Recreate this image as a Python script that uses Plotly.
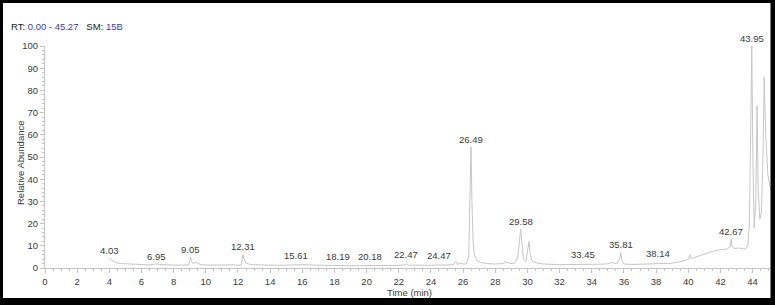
import plotly.graph_objects as go

# ---- data ----
time_min = [3.98, 4.05, 4.2, 4.4, 4.7, 5.0, 5.5, 6.0, 6.5, 6.8, 6.95, 7.1, 7.5, 8.0, 8.5,
            8.95, 9.0, 9.05, 9.12, 9.2, 9.35, 9.45, 9.7, 10.2, 11.0, 11.6, 11.7, 11.8, 12.2,
            12.27, 12.31, 12.38, 12.5, 12.8, 13.5, 14.5, 15.2, 15.6, 16.0, 16.7, 17.5, 18.2,
            19.0, 20.2, 21.0, 22.0, 22.4, 22.47, 22.6, 23.5, 24.0, 24.47, 25.0, 25.4, 25.55,
            25.65, 25.8, 26.0, 26.2, 26.35, 26.42, 26.49, 26.55, 26.62, 26.7, 26.85, 27.1,
            27.5, 28.0, 28.5, 28.6, 28.7, 28.8, 28.9, 29.2, 29.4, 29.5, 29.58, 29.65, 29.75,
            29.9, 30.0, 30.1, 30.18, 30.3, 30.6, 31.0, 32.0, 33.0, 33.45, 34.0, 34.5, 35.0,
            35.3, 35.4, 35.6, 35.75, 35.81, 35.86, 36.0, 36.5, 37.0, 37.5, 38.14, 38.8, 39.3,
            39.8, 40.0, 40.1, 40.15, 40.3, 40.7, 41.0, 41.5, 42.0, 42.4, 42.6, 42.67, 42.72,
            42.85, 43.2, 43.5, 43.7, 43.8, 43.88, 43.95, 44.02, 44.1, 44.2, 44.28, 44.35,
            44.45, 44.55, 44.65, 44.72, 44.82, 44.95, 45.1, 45.27]
rel_abundance = [4.3, 4.0, 3.0, 2.4, 2.0, 1.9, 1.7, 1.5, 1.4, 1.7, 1.9, 1.6, 1.4, 1.3, 1.3,
                 1.4, 3.5, 5.0, 3.0, 2.0, 2.6, 2.2, 1.5, 1.3, 1.2, 1.4, 1.6, 1.3, 1.3,
                 4.0, 6.0, 4.0, 2.2, 1.5, 1.3, 1.2, 1.3, 1.5, 1.5, 1.3, 1.1, 1.2,
                 1.0, 1.1, 1.0, 1.1, 1.5, 2.0, 1.3, 1.1, 1.2, 1.4, 1.3, 1.6, 3.0,
                 1.6, 2.2, 1.8, 1.8, 5.0, 30.0, 54.5, 30.0, 12.0, 6.0, 3.5, 2.5,
                 2.0, 1.8, 2.0, 3.0, 2.2, 2.6, 2.0, 2.2, 5.0, 12.0, 17.5, 12.0, 4.0,
                 3.0, 7.0, 12.0, 6.0, 3.0, 2.2, 1.8, 1.5, 1.5, 1.7, 1.6, 1.7, 1.9,
                 2.6, 2.0, 2.2, 4.5, 7.0, 3.5, 1.8, 1.6, 1.6, 1.8, 2.0, 2.0, 2.5,
                 3.3, 3.8, 6.0, 4.5, 4.5, 5.5, 6.5, 7.5, 8.3, 8.5, 9.5, 13.0, 10.0,
                 8.8, 9.0, 8.5, 9.5, 20.0, 60.0, 100.0, 50.0, 18.0, 30.0, 73.0, 35.0,
                 22.0, 25.0, 50.0, 86.0, 60.0, 42.0, 36.0, 34.0]

peak_labels = ["4.03", "6.95", "9.05", "12.31", "15.61", "18.19", "20.18", "22.47", "24.47",
               "26.49", "29.58", "33.45", "35.81", "38.14", "42.67", "43.95"]
peak_label_height = [4.3, 1.9, 5.1, 6.2, 2.1, 1.9, 1.7, 2.8, 2.1,
                     54.5, 17.5, 2.6, 7.0, 3.1, 13.2, 100.0]

# ---- layout geometry ----
W, H = 775, 305
ML, MR, MT, MB = 45, 2, 46, 37
PW, PH = W - ML - MR, H - MT - MB

def px_x(p):
    return (p - ML) / PW

def px_y(p):
    return (H - MB - p) / PH

LABEL = "#3a3a3a"
AXIS = "#c4c4c4"
FONT = "Liberation Sans, Arial, sans-serif"

fig = go.Figure()
fig.add_trace(go.Scatter(x=time_min, y=rel_abundance, mode="lines",
                         line=dict(color="#c6c6c6", width=1), hoverinfo="x+y",
                         showlegend=False))

annotations = []
for lab, h in zip(peak_labels, peak_label_height):
    annotations.append(dict(x=float(lab), y=h, xref="x", yref="y", text=lab,
                            showarrow=False, yanchor="bottom", xanchor="center",
                            yshift=0, font=dict(size=9.5, color=LABEL, family=FONT)))

annotations.append(dict(
    x=px_x(9), y=px_y(27), xref="paper", yref="paper", xanchor="left", yanchor="middle",
    showarrow=False, font=dict(size=9.5, color="#202020", family=FONT),
    text="RT: <span style='color:#3b3b9c'>0.00 - 45.27</span>&nbsp;&nbsp;&nbsp;SM: "
         "<span style='color:#3b3b9c'>15B</span>"))
annotations.append(dict(
    x=px_x(20), y=px_y(162), xref="paper", yref="paper", xanchor="center", yanchor="middle",
    textangle=-90, showarrow=False, text="Relative Abundance",
    font=dict(size=9.5, color=LABEL, family=FONT)))
annotations.append(dict(
    x=px_x(409), y=px_y(292), xref="paper", yref="paper", xanchor="center", yanchor="middle",
    showarrow=False, text="Time (min)", font=dict(size=9.5, color=LABEL, family=FONT)))

shapes = []
def black_rect(x0, y0, x1, y1):
    shapes.append(dict(type="rect", xref="paper", yref="paper",
                       x0=px_x(x0), x1=px_x(x1), y0=px_y(y0), y1=px_y(y1),
                       fillcolor="black", line=dict(width=0), layer="above"))
black_rect(-2, -2, W + 2, 3)
black_rect(-2, 298, W + 2, H + 2)
black_rect(-2, -2, 3, H + 2)
black_rect(770.5, -2, W + 2, H + 2)

fig.update_layout(
    width=W, height=H,
    margin=dict(l=ML, r=MR, t=MT, b=MB, pad=0),
    paper_bgcolor="white", plot_bgcolor="white",
    font=dict(family=FONT, size=9.5, color=LABEL),
    annotations=annotations, shapes=shapes,
    xaxis=dict(range=[0, 45.27], tick0=0, dtick=2, showgrid=False, zeroline=False,
               showline=True, linecolor=AXIS, linewidth=1, ticks="outside", ticklen=4,
               tickcolor=AXIS, tickfont=dict(size=9.5, color=LABEL), ticklabelstandoff=1,
               minor=dict(dtick=0.5, ticks="outside", ticklen=2, tickcolor=AXIS)),
    yaxis=dict(range=[0, 100], tick0=0, dtick=10, showgrid=False, zeroline=False,
               showline=True, linecolor=AXIS, linewidth=1, ticks="outside", ticklen=4,
               tickcolor=AXIS, tickfont=dict(size=9.5, color=LABEL),
               minor=dict(dtick=2, ticks="outside", ticklen=2, tickcolor=AXIS)),
)

fig.write_html("out.html")
